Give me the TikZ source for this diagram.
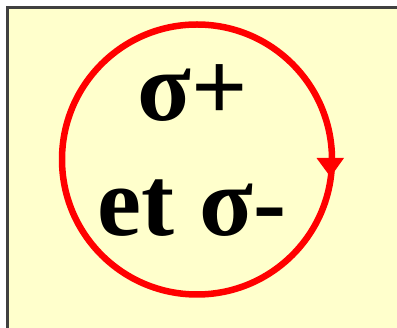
\documentclass[tikz,border=0pt]{standalone}
\usepackage{fontspec}
\setmainfont{Liberation Serif}
\definecolor{paper}{HTML}{FFFFCC}
\definecolor{ringred}{HTML}{FF0000}
\definecolor{frame}{HTML}{404040}
\begin{document}
\begin{tikzpicture}[x=1pt,y=-1pt,
  bigtext/.style={font=\bfseries\fontsize{99}{99}\selectfont, inner sep=0pt, anchor=base}]
\useasboundingbox (0,0) rectangle (397,328);
\fill[white] (0,0) rectangle (397,328);
\fill[paper] (7.5,7.5) rectangle (397,328);
\draw[frame, line width=2.2pt] (7.5,328) -- (7.5,7.5) -- (397,7.5);
\node[circle, draw=ringred, line width=6.5pt, minimum size=270pt, inner sep=0pt] (ring) at (197,159.5) {};
\fill[ringred] (316.5,158) -- (344,158) -- (330.5,177) -- cycle;
\node[bigtext] (splus) at (193,121) {σ+};
\node[bigtext] (sminus) at (192,236) {et σ-};
\end{tikzpicture}
\end{document}
